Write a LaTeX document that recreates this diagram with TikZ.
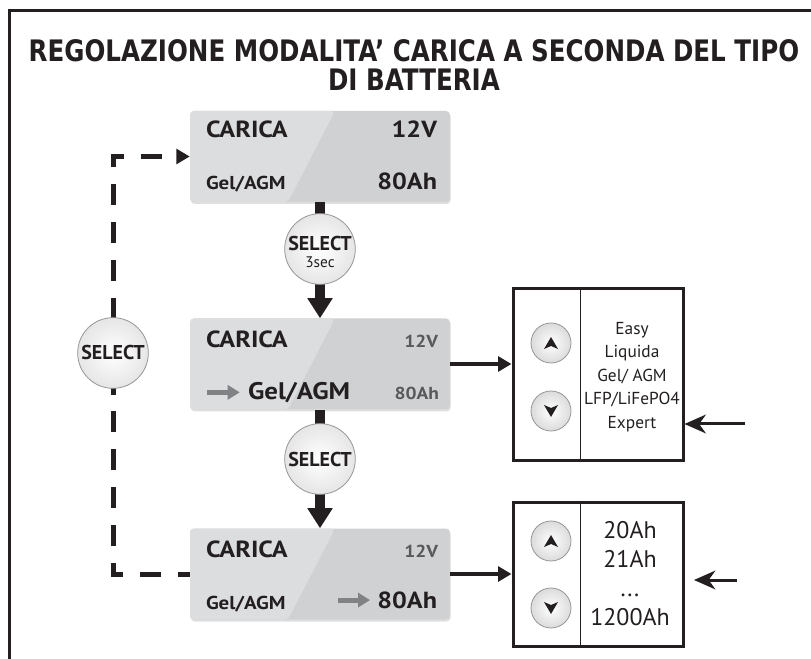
\documentclass[tikz,border=0pt]{standalone}
\usepackage{fontspec}
\setmainfont{PT Sans}
\newfontfamily\titlefont[FakeStretch=0.83]{DejaVu Sans}
\newfontfamily\lcdfont[FakeStretch=1.12]{PT Sans}
\usetikzlibrary{positioning,arrows.meta,calc,shadows}
\definecolor{inkblack}{RGB}{35,31,32}
\definecolor{lcdgray}{RGB}{208,209,211}
\definecolor{lcdlight}{RGB}{220,221,223}
\definecolor{dimtext}{RGB}{88,89,91}
\definecolor{ptrgray}{RGB}{128,130,133}
\definecolor{btnedge}{RGB}{150,150,150}

\begin{document}
\begin{tikzpicture}[x=0.75pt, y=-0.75pt, every node/.style={text=inkblack}]
  \tikzset{
    lcd/.style={fill=lcdgray, rounded corners=3pt, minimum width=195pt, minimum height=68.25pt, inner sep=0pt,
      drop shadow={shadow xshift=0.5pt, shadow yshift=-1.5pt, opacity=0.25},
      path picture={\fill[lcdlight] (path picture bounding box.north west) -- ([xshift=108.75pt]path picture bounding box.north west) -- ([xshift=73.5pt]path picture bounding box.south west) -- (path picture bounding box.south west) -- cycle;}},
    big/.style={font=\lcdfont\bfseries\fontsize{17.5}{20}\selectfont, inner sep=0pt},
    bigger/.style={font=\lcdfont\bfseries\fontsize{18}{20}\selectfont, inner sep=0pt},
    mid/.style={font=\lcdfont\bfseries\fontsize{14}{16}\selectfont, inner sep=0pt},
    small/.style={font=\lcdfont\bfseries\fontsize{13}{15}\selectfont, inner sep=0pt, text=dimtext},
    selbtn/.style={circle, draw=btnedge, line width=0.6pt, inner color=white, outer color=black!10, minimum size=53pt, inner sep=0pt, align=center, font=\bfseries\fontsize{15}{15}\selectfont},
    seltext/.style={font=\bfseries\fontsize{15}{15}\selectfont, inner sep=0pt},
    arrbtn/.style={circle, draw=btnedge, line width=0.6pt, inner color=white, outer color=black!14, minimum size=30pt, inner sep=0pt},
    optbox/.style={draw=inkblack, line width=2.25pt, minimum width=127.5pt, inner sep=0pt},
    vbar/.style={draw=inkblack, line width=7.5pt, -{Triangle[length=15pt,width=18pt]}},
    harrow/.style={draw=inkblack, line width=3pt, -{Triangle[length=10pt,width=11pt]}},
    inarrow/.style={draw=inkblack, line width=2.25pt, -{Stealth[length=16pt,width=14pt,inset=5pt]}},
    ptr/.style={draw=ptrgray, line width=3.75pt, -{Triangle[length=9pt,width=10.5pt]}},
    loopline/.style={draw=inkblack, line width=3.75pt, dash pattern=on 15.75pt off 12.71pt, dash phase=7.05pt, -{Triangle[length=10pt,width=11pt]}}
  }
  \useasboundingbox (0,0) rectangle (811,659);

  % Frame and title
  \draw[line width=2pt, inkblack] (9.5,659) -- (9.5,10.5) -- (811,10.5);
  \node[font=\titlefont\bfseries\fontsize{22.2}{21.5}\selectfont, align=center] (title) at (414,65) {REGOLAZIONE MODALITA’ CARICA A SECONDA DEL TIPO\\DI BATTERIA};

  % Top display
  \node[lcd] (lcdTop) at (320,156.5) {};
  \node[big, anchor=base west] (carTop) at ($(lcdTop.north west)+(16,27)$) {CARICA};
  \node[big, anchor=base east] (voltTop) at ($(lcdTop.north east)+(-13,27)$) {12V};
  \node[mid, anchor=base west] (typTop) at ($(lcdTop.north west)+(16,79)$) {Gel/AGM};
  \node[big, anchor=base east] (capTop) at ($(lcdTop.north east)+(-13,79)$) {80Ah};

  % Middle display
  \node[lcd] (lcdMid) at (320,364) {};
  \node[big, anchor=base west] (carMid) at ($(lcdMid.north west)+(16,29)$) {CARICA};
  \node[small, anchor=base east] (voltMid) at ($(lcdMid.north east)+(-12,29)$) {12V};
  \node[bigger, anchor=base west] (typMid) at ($(lcdMid.north west)+(58,81)$) {Gel/AGM};
  \node[small, anchor=base east] (capMid) at ($(lcdMid.north east)+(-11,81)$) {80Ah};
  \draw[ptr] ($(typMid.west)+(-41,0)$) -- ($(typMid.west)+(-8,0)$);

  % Bottom display
  \node[lcd] (lcdBot) at (320,574) {};
  \node[big, anchor=base west] (carBot) at ($(lcdBot.north west)+(16,29)$) {CARICA};
  \node[small, anchor=base east] (voltBot) at ($(lcdBot.north east)+(-12,29)$) {12V};
  \node[mid, anchor=base west] (typBot) at ($(lcdBot.north west)+(16,81)$) {Gel/AGM};
  \node[big, anchor=base east] (capBot) at ($(lcdBot.north east)+(-13,80)$) {80Ah};
  \draw[ptr] ($(capBot.west)+(-39,0)$) -- ($(capBot.west)+(-7,0)$);

  % Option boxes
  \node[optbox, minimum height=128.25pt] (optType) at (598,374.5) {};
  \node[optbox, minimum height=108pt] (optCap) at (598,574) {};
  \draw[line width=1.1pt, inkblack] ($(optType.north west)+(69,0)$) -- ($(optType.south west)+(69,0)$);
  \draw[line width=1.1pt, inkblack] ($(optCap.north west)+(69,0)$) -- ($(optCap.south west)+(69,0)$);
  \node[font=\fontsize{13}{17.6}\selectfont, align=center] (typList) at (632,377) {Easy\\Liquida\\Gel/ AGM\\LFP/LiFePO4\\Expert};
  \node[font=\fontsize{18}{21.75}\selectfont, align=center] (capList) at (630,574) {20Ah\\21Ah\\...\\1200Ah};

  % Up/down buttons
  \node[arrbtn] (upType) at (551,343) {};
  \node[arrbtn] (dnType) at (551,411) {};
  \node[arrbtn] (upCap) at (551,541) {};
  \node[arrbtn] (dnCap) at (551,608) {};
  \foreach \b/\s in {upType/1, dnType/-1, upCap/1, dnCap/-1}
    \fill[inkblack, shift={(\b.center)}, yscale=\s] (0,-6) -- (7,6) -- (0,3) -- (-7,6) -- cycle;

  % Connectors
  \draw[vbar] (lcdTop.south) -- (lcdMid.north);
  \draw[vbar] (lcdMid.south) -- (lcdBot.north);
  \coordinate (loopB) at (113,574);
  \coordinate (loopT) at (113,156.5);
  \draw[loopline] (lcdBot.west) -- (loopB) -- (loopT) -- (lcdTop.west);
  \draw[harrow] (lcdMid.east) -- (lcdMid.east -| optType.west);
  \draw[harrow] (lcdBot.east) -- (lcdBot.east -| optCap.west);
  \coordinate (inType) at (745,424);
  \draw[inarrow] (inType) -- (inType -| optType.east);
  \coordinate (inCap) at (737,580);
  \coordinate (inCapTip) at (694,580);
  \draw[inarrow] (inCap) -- (inCapTip);

  % Select buttons
  \node[selbtn] (selTop) at (320,249) {};
  \node[seltext] (selTopTxt) at (320,244) {SELECT};
  \node[font=\fontsize{11.5}{11.5}\selectfont, inner sep=0pt] (selTopSec) at (320,262) {3sec};
  \node[selbtn] (selMid) at (320,459) {SELECT};
  \node[selbtn] (selLoop) at (113,353) {SELECT};
\end{tikzpicture}
\end{document}
